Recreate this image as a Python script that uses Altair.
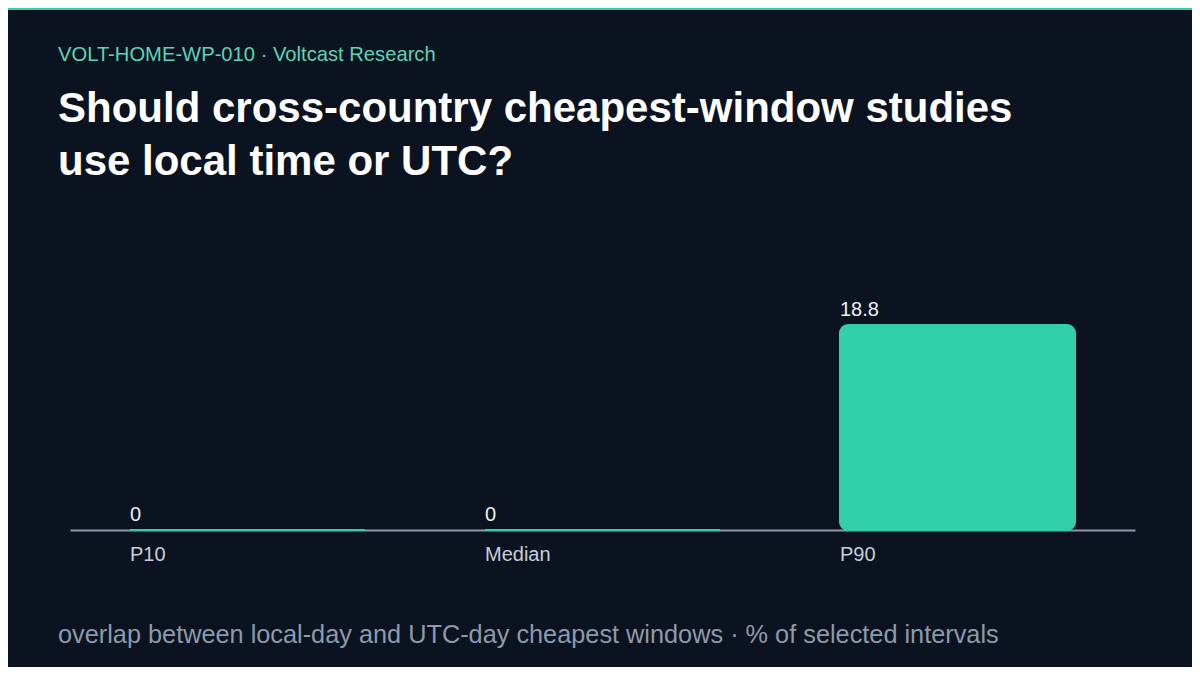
import altair as alt
import pandas as pd

categories = ["P10", "Median", "P90"]
values = [0, 0, 18.8]
value_labels = ["0", "0", "18.8"]
eyebrow = "VOLT-HOME-WP-010 · Voltcast Research"
title_line1 = "Should cross-country cheapest-window studies"
title_line2 = "use local time or UTC?"
footer = "overlap between local-day and UTC-day cheapest windows · % of selected intervals"

BG = "#0a131f"
TEAL = "#31d0aa"
FONT = "Liberation Sans"

df = pd.DataFrame({"cat": categories, "val": values, "lab": value_labels})

W, H = 1065, 218
PL, PT = 62, 304

xenc = alt.X("cat:N", sort=categories,
             scale=alt.Scale(paddingInner=0.338, paddingOuter=0.169),
             axis=alt.Axis(title=None, labelAlign="left", labelOffset=-117.5,
                           labelFont=FONT, labelFontSize=20, labelColor="#c9ced6",
                           labelPadding=14, ticks=False, domainColor="#8f99a8",
                           domainWidth=2, labelAngle=0))
yenc = alt.Y("val:Q", scale=alt.Scale(domain=[0, 20]), axis=None)

bars = alt.Chart(df).mark_bar(color=TEAL, stroke=TEAL, strokeWidth=2,
                              cornerRadius=8).encode(x=xenc, y=yenc)

labels = alt.Chart(df).mark_text(align="left", baseline="alphabetic", dy=-9,
                                 font=FONT, fontSize=20, color="#eef1f4").encode(
    x=alt.X("cat:N", sort=categories, bandPosition=0), y=yenc, text="lab:N")

topbar = alt.Chart(pd.DataFrame({"k": [0]})).mark_rect(color=TEAL).encode(
    x=alt.value(-PL - 8), x2=alt.value(W + 80), y=alt.value(-PT - 8), y2=alt.value(-PT + 2))


def text_layer(txt, x, y, size, color, weight="normal"):
    return alt.Chart(pd.DataFrame({"t": [txt]})).mark_text(
        align="left", baseline="alphabetic", font=FONT, fontSize=size,
        fontWeight=weight, color=color).encode(
        x=alt.value(x), y=alt.value(y), text="t:N")


ebl = text_layer(eyebrow, -12, 61 - 312, 20.2, "#5cd3b6")
t1 = text_layer(title_line1, -12, 122 - 312, 42, "#ffffff", "bold")
t2 = text_layer(title_line2, -12, 175 - 312, 42, "#ffffff", "bold")
ft = text_layer(footer, -12, 643 - 312, 25.3, "#8e9aab")

chart = alt.layer(topbar, bars, labels, ebl, t1, t2, ft).properties(
    width=W, height=H, background=BG,
    autosize=alt.AutoSizeParams(type="none"),
    padding={"left": PL, "top": PT, "right": 1184 - PL - W, "bottom": 659 - PT - H},
).configure_view(stroke=None)

chart.save("out.html", embed_options={"renderer": "svg", "actions": False})
